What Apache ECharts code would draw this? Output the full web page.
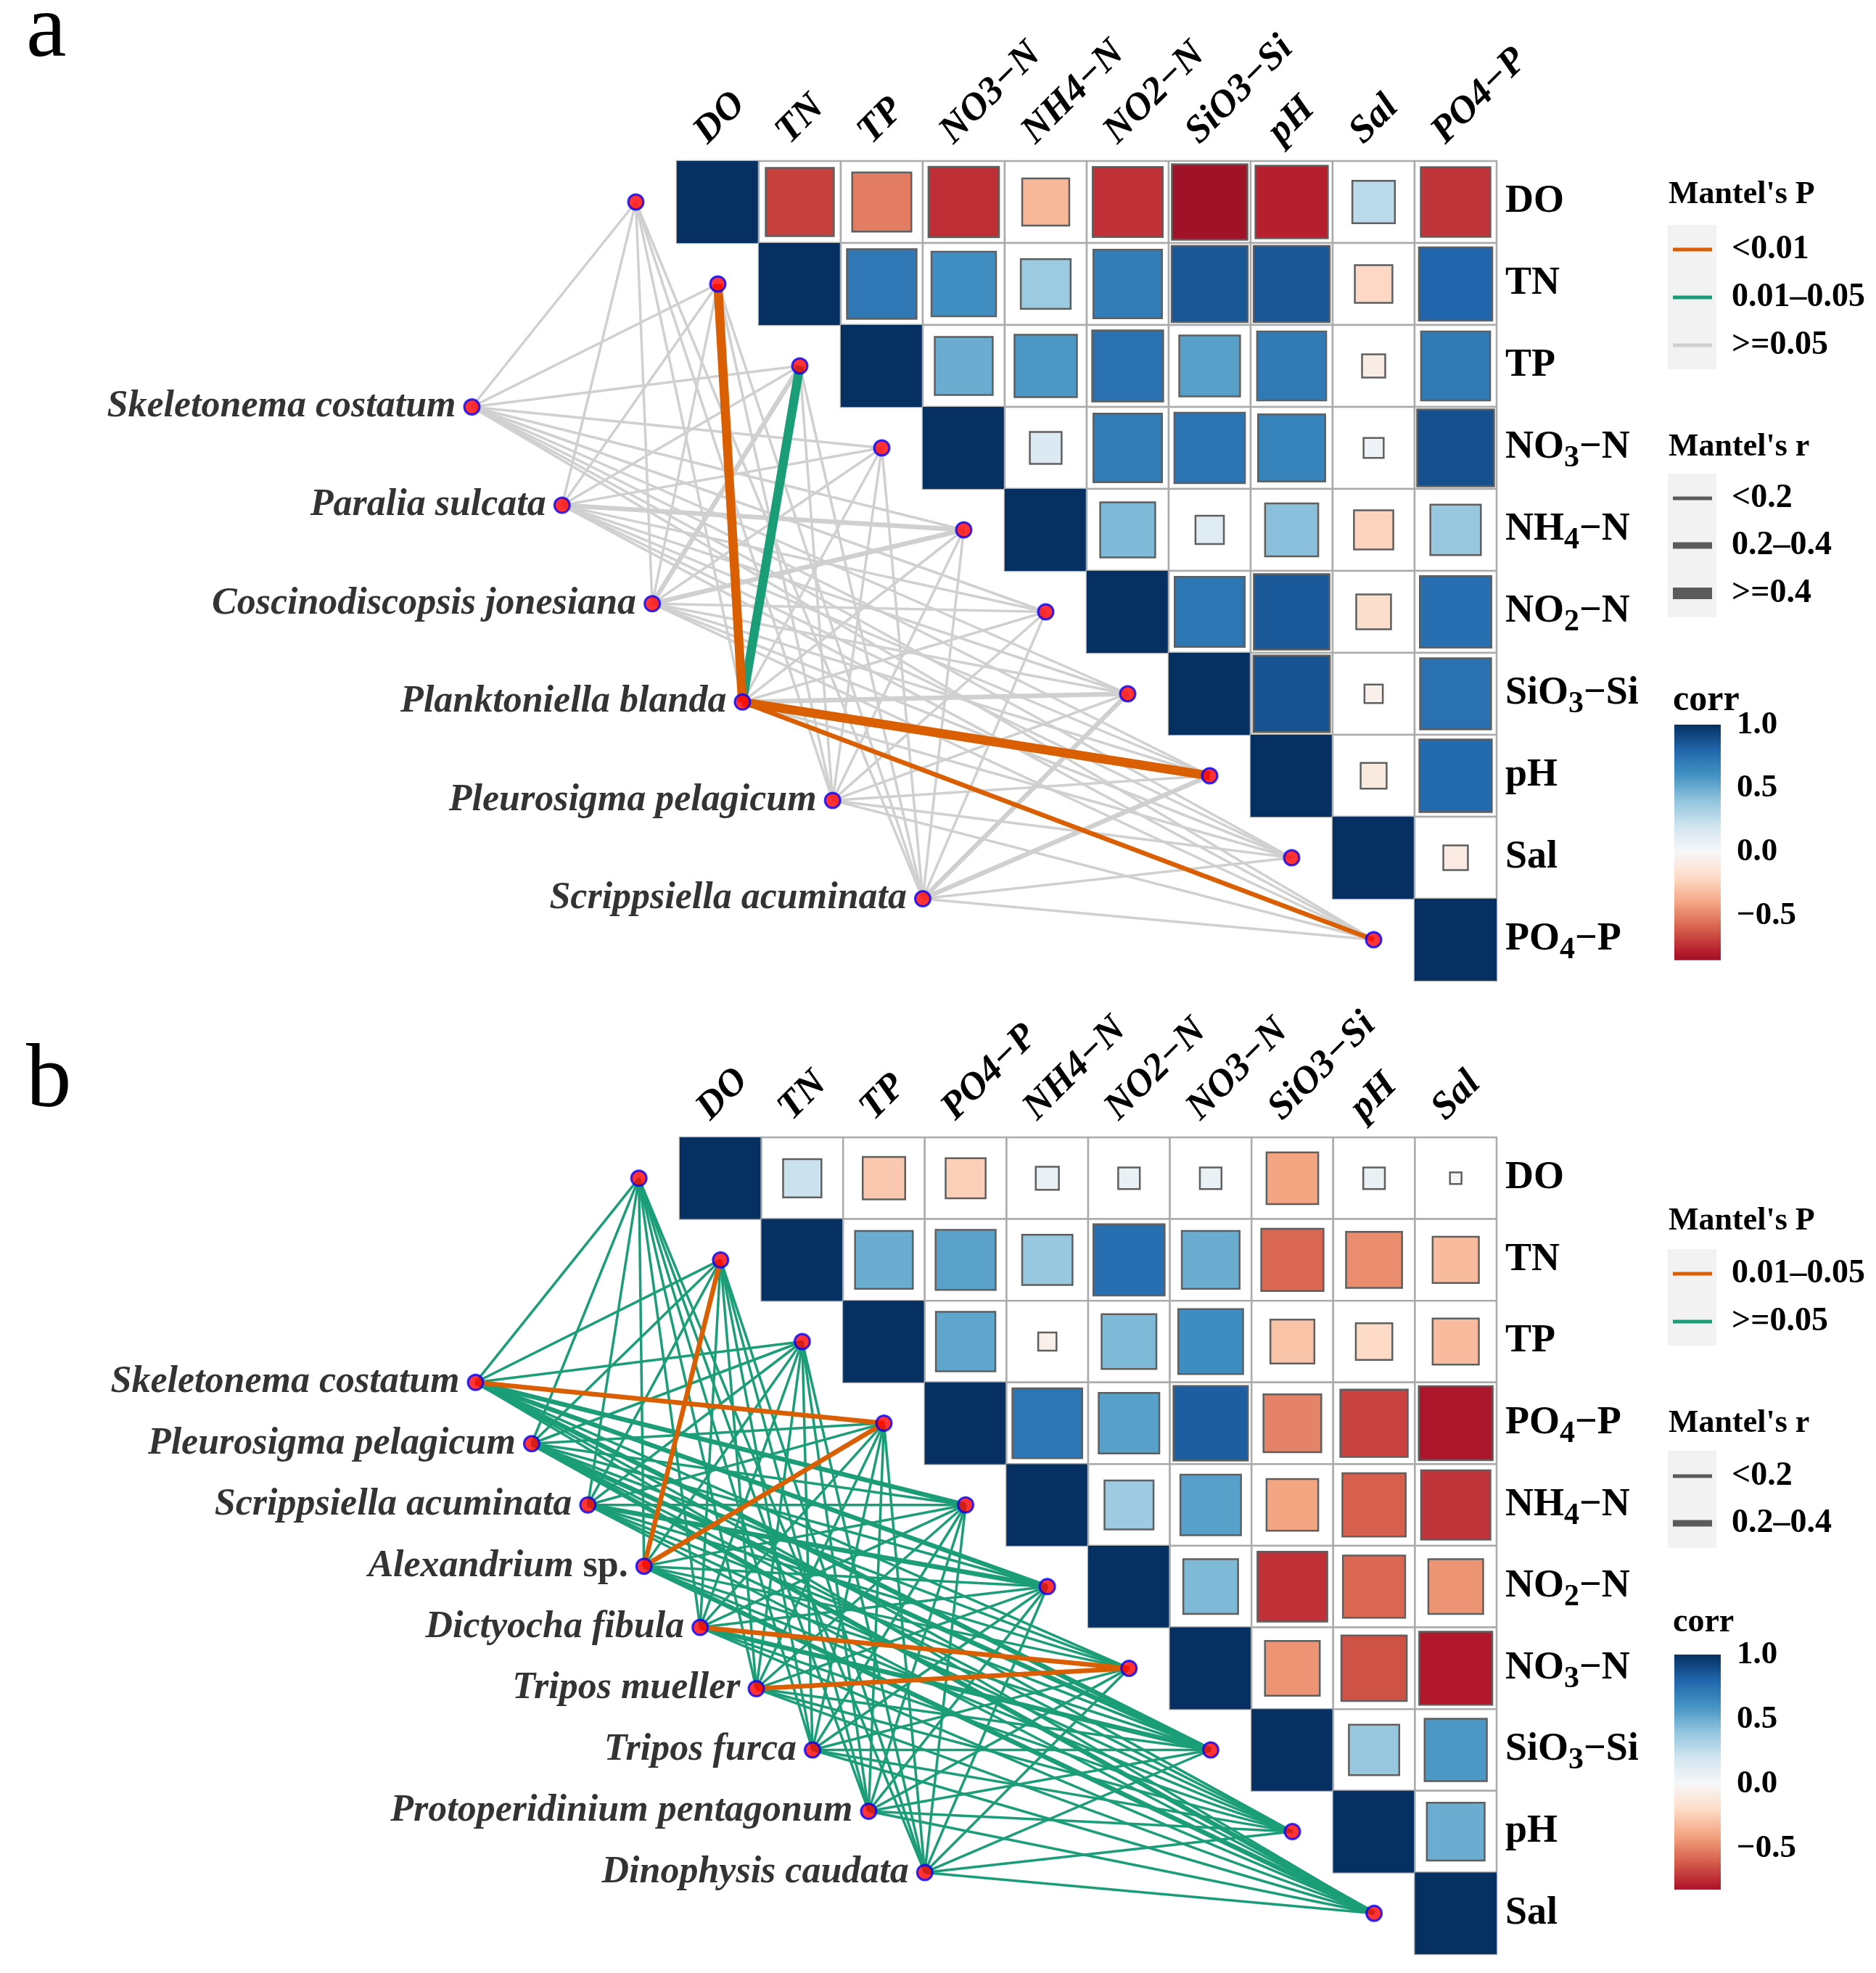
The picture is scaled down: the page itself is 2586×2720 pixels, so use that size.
<!DOCTYPE html>
<html><head><meta charset="utf-8">
<script src="https://cdn.jsdelivr.net/npm/echarts@6/dist/echarts.min.js"></script>
<style>html,body{margin:0;padding:0;background:#fff}#c{width:2586px;height:2720px}</style>
</head><body><div id="c"></div>
<script>
// ================= DATA =================
// Panel a: environmental variables (heatmap order)
const envA = ['DO','TN','TP','NO3-N','NH4-N','NO2-N','SiO3-Si','pH','Sal','PO4-P'];
// upper triangle of Pearson r (row i lists columns i..9)
const corrA = [
  [1, -0.69, -0.52, -0.74, -0.33, -0.73, -0.85, -0.78, 0.27, -0.72],
  [1, 0.72, 0.62, 0.37, 0.70, 0.86, 0.86, -0.21, 0.80],
  [1, 0.50, 0.58, 0.75, 0.55, 0.71, -0.08, 0.71],
  [1, 0.15, 0.70, 0.74, 0.67, 0.06, 0.88],
  [1, 0.45, 0.12, 0.42, -0.23, 0.38],
  [1, 0.73, 0.85, -0.18, 0.76],
  [1, 0.87, -0.05, 0.75],
  [1, -0.10, 0.78],
  [1, -0.09],
  [1]
];
const taxaA = ['Skeletonema costatum','Paralia sulcata','Coscinodiscopsis jonesiana','Planktoniella blanda','Pleurosigma pelagicum','Scrippsiella acuminata'];
// Mantel's P class per taxon x env (0: <0.01, 1: 0.01-0.05, 2: >=0.05)
const mantelPA = [
  [2,2,2,2,2,2,2,2,2,2],
  [2,2,2,2,2,2,2,2,2,2],
  [2,2,2,2,2,2,2,2,2,2],
  [2,0,1,2,2,2,2,0,2,0],
  [2,2,2,2,2,2,2,2,2,2],
  [2,2,2,2,2,2,2,2,2,2]
];
// Mantel's r class (0: <0.2, 1: 0.2-0.4, 2: >=0.4)
const mantelRA = [
  [0,0,0,0,0,0,0,0,0,0],
  [0,0,0,0,1,0,0,0,0,0],
  [0,0,1,0,1,0,0,0,0,0],
  [0,2,2,0,0,0,1,2,0,1],
  [0,0,0,0,0,0,0,0,0,0],
  [0,0,0,0,0,0,1,1,0,0]
];
const pLabelsA = ['<0.01','0.01\u20130.05','>=0.05'];
const rLabelsA = ['<0.2','0.2\u20130.4','>=0.4'];

// Panel b
const envB = ['DO','TN','TP','PO4-P','NH4-N','NO2-N','NO3-N','SiO3-Si','pH','Sal'];
const corrB = [
  [1, 0.22, -0.27, -0.24, 0.08, 0.07, 0.07, -0.40, 0.07, 0.02],
  [1, 0.50, 0.54, 0.38, 0.76, 0.50, -0.58, -0.47, -0.32],
  [1, 0.53, -0.05, 0.45, 0.63, -0.29, -0.20, -0.32],
  [1, 0.73, 0.55, 0.83, -0.50, -0.68, -0.82],
  [1, 0.36, 0.55, -0.40, -0.60, -0.72],
  [1, 0.45, -0.73, -0.58, -0.45],
  [1, -0.45, -0.64, -0.80],
  [1, 0.38, 0.58],
  [1, 0.50],
  [1]
];
const taxaB = ['Skeletonema costatum','Pleurosigma pelagicum','Scrippsiella acuminata','Alexandrium sp.','Dictyocha fibula','Tripos mueller','Tripos furca','Protoperidinium pentagonum','Dinophysis caudata'];
// Mantel's P class (0: 0.01-0.05, 1: >=0.05)
const mantelPB = [
  [1,1,1,0,1,1,1,1,1,1],
  [1,1,1,1,1,1,1,1,1,1],
  [1,1,1,1,1,1,1,1,1,1],
  [1,0,1,0,1,1,1,1,1,1],
  [1,1,1,1,1,1,0,1,1,1],
  [1,1,1,1,1,1,0,1,1,1],
  [1,1,1,1,1,1,1,1,1,1],
  [1,1,1,1,1,1,1,1,1,1],
  [1,1,1,1,1,1,1,1,1,1]
];
// Mantel's r class (0: <0.2, 1: 0.2-0.4)
const mantelRB = [
  [0,0,0,1,1,1,0,1,0,0],
  [0,0,0,0,0,0,0,1,0,1],
  [0,0,0,0,0,1,0,0,0,0],
  [0,1,0,1,0,0,0,0,0,1],
  [0,0,0,0,0,0,1,1,0,0],
  [0,0,0,0,0,0,1,0,0,0],
  [0,0,0,0,0,0,0,0,0,0],
  [0,0,0,0,0,0,0,0,0,0],
  [0,0,0,0,0,0,0,0,0,0]
];
const pLabelsB = ['0.01\u20130.05','>=0.05'];
const rLabelsB = ['<0.2','0.2\u20130.4'];
const corrTicks = [1.0, 0.5, 0.0, -0.5];

// ================= STYLE =================
const FF = "'Liberation Serif','Times New Roman',serif";
const PAL = ['#67001F','#B2182B','#D6604D','#F4A582','#FDDBC7','#F7F7F7','#D1E5F0','#92C5DE','#4393C3','#2166AC','#053061'];
const P_COL_A = ['#D95F02','#1B9E77','#D0D0D0'];
const P_COL_B = ['#D95F02','#1B9E77'];
const R_W = [3.5, 6.5, 12.5];
const R_KEY_W = [5, 9, 16];

// ================= BUILD =================
function heatData(corr){
  const out = [];
  corr.forEach((row,i)=>row.forEach((v,k)=>out.push([i+k, i, v])));
  return out;
}
function minOf(corr){ return Math.min.apply(null, corr.flat()); }
function taxonPos(k, n){ return [-3 + k*5.5/(n-1), 2.5 + k*6/(n-1)]; }
function edgeData(P, R){
  const out = [];
  P.forEach((row,t)=>row.forEach((p,e)=>out.push([t, e, p, R[t][e], P.length])));
  out.sort((a,b)=>b[2]-a[2] || a[3]-b[3]);
  return out;
}
function renderHeat(params, api){
  const c = api.value(0), r = api.value(1), v = api.value(2);
  const p0 = api.coord([c-0.5, r-0.5]), p1 = api.coord([c+0.5, r+0.5]);
  const w = p1[0]-p0[0], h = p1[1]-p0[1];
  const cx = (p0[0]+p1[0])/2, cy = (p0[1]+p1[1])/2;
  const col = api.visual('color');
  const ch = [{type:'rect', shape:{x:p0[0], y:p0[1], width:w, height:h}, style:{fill:'#fff', stroke:'#ABABAB', lineWidth:2.5}}];
  if (c === r) {
    ch.push({type:'rect', shape:{x:p0[0], y:p0[1], width:w, height:h}, style:{fill:col}});
  } else {
    const s = Math.sqrt(Math.abs(v));
    ch.push({type:'rect', shape:{x:cx-w*s/2, y:cy-h*s/2, width:w*s, height:h*s}, style:{fill:col, stroke:'#5F5F5F', lineWidth:2.5}});
  }
  return {type:'group', children:ch};
}
function makeEdgeRender(colors){
  return function(params, api){
    const t = api.value(0), e = api.value(1), p = api.value(2), r = api.value(3), n = api.value(4);
    const a = api.coord(taxonPos(t, n));
    const b = api.coord([e-1, e]);
    return {type:'line', shape:{x1:a[0], y1:a[1], x2:b[0], y2:b[1]}, style:{stroke:colors[p], lineWidth:R_W[r], lineCap:'butt'}};
  };
}
function colLabelRender(names){
  return function(params, api){
    const i = api.value(0);
    const p = api.coord([i, -0.5]);
    return {type:'text', x:p[0]-24, y:p[1]-32, rotation:Math.PI/4,
      style:{text:names[i].replace(/-/g,'\u2212'), font:"italic bold 53px "+FF, fill:'#000',
        align:'left', verticalAlign:'middle', textAlign:'left', textVerticalAlign:'middle'}};
  };
}
function rowLabelRender(names){
  return function(params, api){
    const i = api.value(1);
    const p = api.coord([9.5, i]);
    let txt;
    const m = names[i].match(/^([A-Za-z]+)(\d)(.*)$/);
    if (m) txt = '{m|'+m[1]+'}{s|'+m[2]+'}{m|'+m[3].replace(/-/g,'\u2212')+'}';
    else txt = '{m|'+names[i]+'}';
    return {type:'text', x:p[0]+12, y:p[1],
      style:{text:txt, align:'left', verticalAlign:'middle', textAlign:'left', textVerticalAlign:'middle',
        rich:{m:{fontSize:54, fontWeight:'bold', fontFamily:FF, fill:'#000', lineHeight:80},
              s:{fontSize:42, fontWeight:'bold', fontFamily:FF, fill:'#000', lineHeight:42, padding:[30,0,0,0]}}}};
  };
}
function renderBar(params, api){
  const vmin = api.value(1);
  const a = api.coord([0, 1]), b = api.coord([1, vmin]), m = api.coord([0, -1]);
  const stops = PAL.slice().reverse().map((c,k)=>({offset:k/10, color:c}));
  return {type:'rect', shape:{x:a[0], y:a[1], width:b[0]-a[0], height:b[1]-a[1]},
    style:{fill:new echarts.graphic.LinearGradient(0, a[1], 0, m[1], stops, true)}};
}
function cbAxis(grid, pos, vmin){
  return {gridIndex:grid, type:'value', min:-1, max:1, interval:0.5, position:pos,
    axisLine:{show:false}, splitLine:{show:false},
    axisTick:{show:true, inside:true, length:13, lineStyle:{color:'#ffffff', width:2}},
    axisLabel:{show:pos==='right', margin:22, fontSize:45, fontWeight:'bold', fontFamily:FF, color:'#000',
      formatter:v=> (v < vmin - 1e-9 || corrTicks.indexOf(v) < 0) ? '' : v.toFixed(1).replace('-','\u2212')}};
}
function taxaSeries(taxa, xi, yi){
  return {type:'scatter', xAxisIndex:xi, yAxisIndex:yi, clip:false, z:5, symbol:'circle', symbolSize:21,
    itemStyle:{color:'#FF0000', borderColor:'#0000FF', borderWidth:3},
    data:taxa.map((n,k)=>({name:n, value:taxonPos(k, taxa.length)})),
    label:{show:true, position:'left', distance:10, color:'#000', textBorderWidth:0,
      formatter:p=>{ const m = p.name.match(/^(.*) (sp\.)$/); return m ? '{i|'+m[1]+' }{n|'+m[2]+'}' : '{i|'+p.name+'}'; },
      rich:{i:{fontSize:52, fontWeight:'bold', fontStyle:'italic', fontFamily:FF, color:'#000'},
            n:{fontSize:52, fontWeight:'bold', fontFamily:FF, color:'#000'}}},
    emphasis:{disabled:true}};
}
function envSeries(env, xi, yi){
  return {type:'scatter', xAxisIndex:xi, yAxisIndex:yi, clip:false, z:5, symbol:'circle', symbolSize:21,
    itemStyle:{color:'#FF0000', borderColor:'#0000FF', borderWidth:3},
    data:env.map((n,i)=>({name:n, value:[i-1, i]}))};
}
function txt(x, y, s, size, extra){
  return Object.assign({type:'text', x:x, y:y, z:10,
    style:{text:s, font:'bold '+size+'px '+FF, fill:'#000', align:'left', verticalAlign:'middle', textAlign:'left', textVerticalAlign:'middle'}}, extra||{});
}
function legendGraphics(o){
  const g = [];
  g.push(txt(2300, o.pTitle, "Mantel's P", 44));
  g.push({type:'rect', z:9, shape:{x:2299, y:o.pBox[0], width:67, height:o.pBox[1]-o.pBox[0]}, style:{fill:'#F2F2F2'}});
  o.pLabels.forEach((l,k)=>{
    g.push({type:'line', z:10, shape:{x1:2306, y1:o.pLines[k], x2:2360, y2:o.pLines[k]}, style:{stroke:o.pCols[k], lineWidth:5}});
    g.push(txt(2387, o.pLines[k], l, 46));
  });
  g.push(txt(2300, o.rTitle, "Mantel's r", 44));
  g.push({type:'rect', z:9, shape:{x:2299, y:o.rBox[0], width:67, height:o.rBox[1]-o.rBox[0]}, style:{fill:'#F2F2F2'}});
  o.rLabels.forEach((l,k)=>{
    g.push({type:'line', z:10, shape:{x1:2306, y1:o.rLines[k], x2:2360, y2:o.rLines[k]}, style:{stroke:'#5B5B5B', lineWidth:R_KEY_W[k]}});
    g.push(txt(2387, o.rLines[k], l, 46));
  });
  g.push(txt(2306, o.cTitle, 'corr', o.cSize));
  return g;
}

const vminA = minOf(corrA), vminB = minOf(corrB);

const option = {
  animation:false,
  backgroundColor:'#ffffff',
  grid:[
    {left:933, top:222, width:1130, height:1130},
    {left:937, top:1568, width:1126, height:1126},
    {left:2308, top:999, width:64, height:351},
    {left:2308, top:2281, width:64, height:356}
  ],
  xAxis:[
    {gridIndex:0, type:'value', min:-0.5, max:9.5, show:false},
    {gridIndex:1, type:'value', min:-0.5, max:9.5, show:false},
    {gridIndex:2, type:'value', min:0, max:1, show:false},
    {gridIndex:3, type:'value', min:0, max:1, show:false}
  ],
  yAxis:[
    {gridIndex:0, type:'value', min:-0.5, max:9.5, inverse:true, show:false},
    {gridIndex:1, type:'value', min:-0.5, max:9.5, inverse:true, show:false},
    cbAxis(2, 'right', vminA),
    cbAxis(3, 'right', vminB),
    cbAxis(2, 'left', vminA),
    cbAxis(3, 'left', vminB)
  ],
  visualMap:[{type:'continuous', show:false, min:-1, max:1, dimension:2, seriesIndex:[0,1], inRange:{color:PAL}}],
  series:[
    {type:'custom', xAxisIndex:0, yAxisIndex:0, z:2, renderItem:renderHeat, data:heatData(corrA), encode:{x:0, y:1}},
    {type:'custom', xAxisIndex:1, yAxisIndex:1, z:2, renderItem:renderHeat, data:heatData(corrB), encode:{x:0, y:1}},
    {type:'custom', xAxisIndex:0, yAxisIndex:0, z:3, renderItem:makeEdgeRender(P_COL_A), data:edgeData(mantelPA, mantelRA), encode:{x:0, y:1}},
    {type:'custom', xAxisIndex:1, yAxisIndex:1, z:3, renderItem:makeEdgeRender(P_COL_B), data:edgeData(mantelPB, mantelRB), encode:{x:0, y:1}},
    envSeries(envA, 0, 0),
    taxaSeries(taxaA, 0, 0),
    envSeries(envB, 1, 1),
    taxaSeries(taxaB, 1, 1),
    {type:'custom', xAxisIndex:0, yAxisIndex:0, z:4, renderItem:colLabelRender(envA), data:envA.map((n,i)=>[i, -0.5])},
    {type:'custom', xAxisIndex:1, yAxisIndex:1, z:4, renderItem:colLabelRender(envB), data:envB.map((n,i)=>[i, -0.5])},
    {type:'custom', xAxisIndex:0, yAxisIndex:0, z:4, renderItem:rowLabelRender(envA), data:envA.map((n,i)=>[9.5, i])},
    {type:'custom', xAxisIndex:1, yAxisIndex:1, z:4, renderItem:rowLabelRender(envB), data:envB.map((n,i)=>[9.5, i])},
    {type:'custom', xAxisIndex:2, yAxisIndex:2, z:2, renderItem:renderBar, data:[[0, vminA]]},
    {type:'custom', xAxisIndex:3, yAxisIndex:3, z:2, renderItem:renderBar, data:[[0, vminB]]}
  ],
  graphic:[].concat(
    [ {type:'text', x:36, y:44, style:{text:'a', font:'125px '+FF, fill:'#000', align:'left', verticalAlign:'middle', textAlign:'left', textVerticalAlign:'middle'}},
      {type:'text', x:36, y:1492, style:{text:'b', font:'125px '+FF, fill:'#000', align:'left', verticalAlign:'middle', textAlign:'left', textVerticalAlign:'middle'}} ],
    legendGraphics({pTitle:269, pBox:[310,509], pLines:[344,410,476], pLabels:pLabelsA, pCols:P_COL_A,
      rTitle:617, rBox:[653,851], rLines:[687,752,818], rLabels:rLabelsA, cTitle:966, cSize:50}),
    legendGraphics({pTitle:1684, pBox:[1722,1855], pLines:[1756,1822], pLabels:pLabelsB, pCols:P_COL_B,
      rTitle:1963, rBox:[2000,2134], rLines:[2035,2100], rLabels:rLabelsB, cTitle:2237, cSize:46})
  )
};
const chart = echarts.init(document.getElementById('c'), null, {renderer:'canvas', width:2586, height:2720});
chart.setOption(option);
</script>
</body></html>
